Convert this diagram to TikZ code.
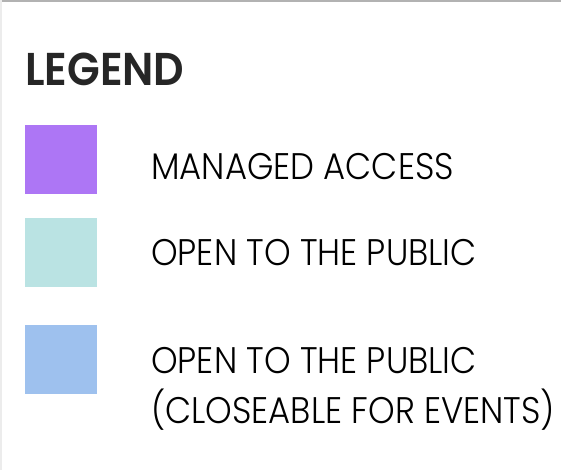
\documentclass[tikz,border=0pt]{standalone}
\usepackage{fontspec}
\setmainfont{Poppins SemiBold}[FakeStretch=0.925]
\newfontfamily\thinfont{Poppins Light}[FakeStretch=0.915]
\definecolor{managed}{RGB}{173,118,245}
\definecolor{openpub}{RGB}{186,227,227}
\definecolor{closeable}{RGB}{158,193,238}
\tikzset{
    swatch/.style={minimum width=72pt, minimum height=69pt, inner sep=0pt, anchor=north west},
    entry/.style={anchor=base west, inner sep=0pt, font=\thinfont\fontsize{37}{44}\selectfont}
}
\begin{document}
\begin{tikzpicture}[x=1pt, y=-1pt]
\useasboundingbox (0,0) rectangle (561,470);
\fill[white] (0,0) rectangle (561,470);
\draw[line width=2.5pt, gray!60] (0,1)--(561,1);
\draw[line width=1.5pt, gray!15] (1,0)--(1,470);

\node (title) at (25,86)[anchor=base west, inner sep=0pt, font=\fontsize{46}{50}\selectfont, text=black!85]{LEGEND};

\node (sqmanaged) at (25,125)[swatch, fill=managed]{};
\node (sqopen) at (25,218)[swatch, fill=openpub]{};
\node (sqclose) at (25,325)[swatch, fill=closeable]{};

\node (txmanaged) at (151,180)[entry]{MANAGED ACCESS};
\node (txopen) at (151,265)[entry]{OPEN TO THE PUBLIC};
\node (txclose) at (151,373)[entry]{OPEN TO THE PUBLIC};
\node (txevents) at (151,423)[entry]{(CLOSEABLE FOR EVENTS)};
\end{tikzpicture}
\end{document}
